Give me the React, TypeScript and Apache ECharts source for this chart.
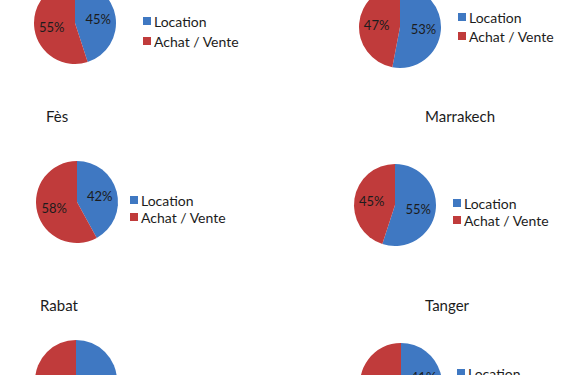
import React, { useEffect, useRef } from "react";
import * as echarts from "echarts";

const seriesNames = ["Location", "Achat / Vente"];
const cityTitles = ["", "", "Fès", "Marrakech", "Rabat", "Tanger"];
const locationPct = [45, 53, 42, 55, 50, 41];
const achatPct = [55, 47, 58, 45, 50, 59];

const BLUE = "#3F78C2";
const RED = "#C03B3B";
const FONT = "Lato, 'Noto Sans', sans-serif";

const pieCenters: [number, number][] = [
  [75, 23],
  [400, 27],
  [77, 202],
  [395, 205],
  [76, 381],
  [401, 384],
];

const titlePos: [number, number][] = [
  [0, -100],
  [0, -100],
  [46, 108],
  [425, 108],
  [40, 297],
  [425, 297],
];

const legendPos: ({ left: number; top: number; gap: number } | null)[] = [
  { left: 143, top: 14, gap: 6 },
  { left: 458, top: 10, gap: 5 },
  { left: 130, top: 193, gap: 3 },
  { left: 453, top: 196, gap: 3 },
  null,
  { left: 457, top: 366, gap: 3 },
];

export default function App() {
  const ref = useRef<HTMLDivElement>(null);
  useEffect(() => {
    if (!ref.current) return;
    const chart = echarts.init(ref.current, undefined, { renderer: "svg" });

    const series: any[] = [];
    const legends: any[] = [];
    const titles: any[] = [];

    cityTitles.forEach((name, i) => {
      series.push({
        type: "pie",
        id: "pie" + i,
        name: name || "Chart " + (i + 1),
        center: pieCenters[i],
        radius: 41,
        startAngle: 90,
        clockwise: true,
        silent: true,
        label: {
          show: true,
          position: "inside",
          formatter: "{c}%",
          color: "#1c1c1c",
          fontSize: 13,
          fontFamily: FONT,
        },
        labelLine: { show: false },
        itemStyle: { borderWidth: 0 },
        data: [
          { name: seriesNames[0], value: locationPct[i], itemStyle: { color: BLUE } },
          { name: seriesNames[1], value: achatPct[i], itemStyle: { color: RED } },
        ],
      });
      const lp = legendPos[i];
      if (lp) {
        legends.push({
          show: true,
          orient: "vertical",
          left: lp.left,
          top: lp.top,
          width: 115,
          height: 60,
          padding: 0,
          itemGap: lp.gap,
          itemWidth: 8,
          itemHeight: 8,
          icon: "rect",
          selectedMode: false,
          data: seriesNames,
          textStyle: { color: "#1c1c1c", fontSize: 14, fontFamily: FONT, padding: [0, 0, 0, -2] },
        });
      }
      if (name) {
        titles.push({
          text: name,
          left: titlePos[i][0],
          top: titlePos[i][1],
          padding: 0,
          textStyle: { color: "#1c1c1c", fontSize: 15, fontWeight: "normal", fontFamily: FONT },
        });
      }
    });

    chart.setOption({
      animation: false,
      backgroundColor: "#ffffff",
      title: titles,
      legend: legends,
      series,
    });
    return () => chart.dispose();
  }, []);

  return (
    <div
      ref={ref}
      style={{ position: "fixed", left: 0, top: 0, width: 580, height: 375 }}
    />
  );
}
